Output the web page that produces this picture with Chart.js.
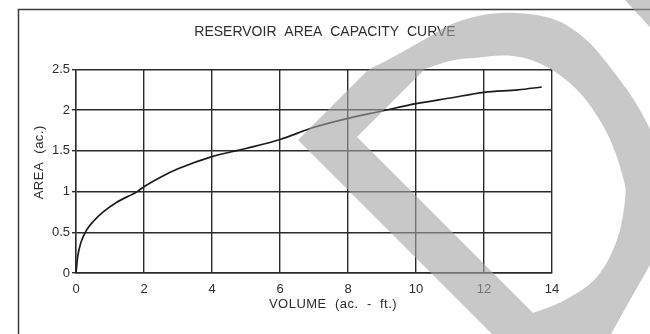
<!DOCTYPE html>
<html>
<head>
<meta charset="utf-8">
<script src="https://cdn.jsdelivr.net/npm/chart.js@4.4.1/dist/chart.umd.min.js"></script>
<style>
  html, body { margin: 0; padding: 0; background: #fff; }
  canvas { display: block; }
</style>
</head>
<body>
<canvas id="chart" width="650" height="334"></canvas>
<script>
// Reservoir stage data: storage volume (ac-ft) against surface area (ac)
const volume = [0, 0.05, 0.15, 0.3, 0.5, 0.8, 1.2, 1.8, 2.0, 2.5, 3.0, 4.0, 5.0, 6.0, 7.0, 8.0, 9.0, 10.0, 11.0, 12.0, 13.0, 13.7];
const area   = [0, 0.20, 0.38, 0.52, 0.63, 0.75, 0.87, 1.00, 1.06, 1.18, 1.28, 1.43, 1.53, 1.64, 1.79, 1.90, 1.99, 2.08, 2.15, 2.22, 2.25, 2.285];

const volumeTicks = [0, 2, 4, 6, 8, 10, 12, 14];
const areaTicks = [0, 0.5, 1, 1.5, 2, 2.5];
const areaTickLabels = ['0', '0.5', '1', '1.5', '2', '2.5'];

const chartTitle = 'RESERVOIR  AREA  CAPACITY  CURVE';
const volumeTitle = 'VOLUME  (ac.  -  ft.)';
const areaTitle = 'AREA  (ac.)';

const FONT = '"Liberation Sans", Arial, sans-serif';
const INK = '#2e2e2e';
const GRID = '#2b2b2b';

// smooth path through a list of points (Catmull-Rom converted to cubic Béziers)
function smoothThrough(ctx, pts) {
  for (let i = 0; i < pts.length - 1; i++) {
    const p0 = pts[i - 1] || pts[i];
    const p1 = pts[i];
    const p2 = pts[i + 1];
    const p3 = pts[i + 2] || p2;
    ctx.bezierCurveTo(
      p1[0] + (p2[0] - p0[0]) / 6, p1[1] + (p2[1] - p0[1]) / 6,
      p2[0] - (p3[0] - p1[0]) / 6, p2[1] - (p3[1] - p1[1]) / 6,
      p2[0], p2[1]);
  }
}

const paper = {
  id: 'paper',
  beforeDraw(chart) {
    const { ctx, width, height } = chart;
    ctx.save();
    ctx.fillStyle = '#ffffff';
    ctx.fillRect(0, 0, width, height);
    // sheet frame
    ctx.strokeStyle = '#3a3a3a';
    ctx.lineWidth = 1.5;
    ctx.beginPath();
    ctx.moveTo(18.5, height);
    ctx.lineTo(18.5, 9.5);
    ctx.lineTo(width, 9.5);
    ctx.stroke();
    ctx.restore();
  },
  afterDraw(chart) {
    const { ctx, chartArea: a } = chart;
    ctx.save();
    ctx.fillStyle = INK;
    ctx.font = '13px ' + FONT;
    ctx.letterSpacing = '0.5px';
    ctx.textAlign = 'center';
    ctx.textBaseline = 'middle';
    // axis captions
    ctx.fillText(volumeTitle, (a.left + a.right) / 2 + 19, a.bottom + 31);
    ctx.translate(39, (a.top + a.bottom) / 2 - 9);
    ctx.rotate(-Math.PI / 2);
    ctx.fillText(areaTitle, 0, 0);
    ctx.restore();

    // grey stamp band across the sheet
    ctx.save();
    ctx.fillStyle = 'rgba(163,163,163,0.6)';
    ctx.beginPath();
    ctx.moveTo(503, 345);
    ctx.lineTo(298, 140);
    ctx.lineTo(368, 70);
    smoothThrough(ctx, [[368, 70], [397, 55], [427, 38], [457, 22], [500, 13], [550, 18], [583, 37], [610, 67], [640, 110], [665, 165], [672, 215], [655, 255], [630, 300], [605, 345]]);
    ctx.closePath();
    ctx.moveTo(357, 137);
    ctx.lineTo(425, 69);
    smoothThrough(ctx, [[425, 69], [450, 61], [473, 58], [513, 56], [547, 67], [580, 93], [607, 133], [623, 177], [625, 200], [617, 240], [597, 277], [565, 300], [533, 313]]);
    ctx.closePath();
    ctx.fill('evenodd');
    ctx.beginPath();
    ctx.moveTo(625, 0);
    ctx.lineTo(660, 0);
    ctx.lineTo(660, 38);
    ctx.closePath();
    ctx.fill();
    ctx.restore();
  }
};

new Chart(document.getElementById('chart'), {
  type: 'line',
  data: {
    datasets: [{
      data: volume.map((v, i) => ({ x: v, y: area[i] })),
      borderColor: '#1c1c1c',
      borderWidth: 1.7,
      pointRadius: 0,
      fill: false,
      cubicInterpolationMode: 'monotone'
    }]
  },
  options: {
    responsive: false,
    animation: false,
    devicePixelRatio: 1,
    layout: { padding: 0 },
    plugins: {
      legend: { display: false },
      tooltip: { enabled: false },
      title: {
        display: true,
        text: chartTitle,
        color: INK,
        font: { family: FONT, size: 14, weight: 'normal' },
        padding: { top: 24, bottom: 28.7 }
      }
    },
    scales: {
      x: {
        type: 'linear',
        min: 0,
        max: 14,
        afterBuildTicks: s => { s.ticks = volumeTicks.map(v => ({ value: v })); },
        afterFit: s => { s.height = 61; },
        ticks: { color: INK, font: { family: FONT, size: 13 }, padding: 9, maxRotation: 0 },
        grid: { color: GRID, lineWidth: 1.4, drawTicks: false },
        border: { color: GRID, width: 1.4 }
      },
      y: {
        type: 'linear',
        min: 0,
        max: 2.5,
        afterBuildTicks: s => { s.ticks = areaTicks.map(v => ({ value: v })); },
        afterFit: s => { s.width = 76; },
        ticks: { color: INK, font: { family: FONT, size: 13 }, padding: 2, callback: (v, i) => areaTickLabels[i] },
        grid: { color: GRID, lineWidth: 1.4, tickLength: 4 },
        border: { color: GRID, width: 1.4 }
      },
      // empty margin on the right of the plot
      margin: {
        type: 'linear',
        position: 'right',
        display: true,
        afterFit: s => { s.width = 98; },
        ticks: { display: false },
        grid: { display: false, drawTicks: false },
        border: { display: false }
      }
    }
  },
  plugins: [paper]
});
</script>
</body>
</html>
